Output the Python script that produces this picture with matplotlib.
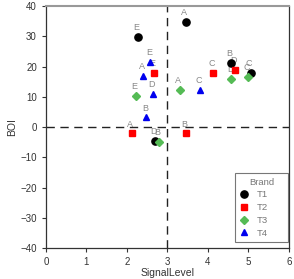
import matplotlib
matplotlib.use("Agg")
import matplotlib.pyplot as plt

brands = ["A", "B", "C", "D", "E"]
series_names = ["T1", "T2", "T3", "T4"]
x_vals = {
    "T1": [3.45, 4.56, 5.05, 2.69, 2.27],
    "T2": [2.12, 3.46, 4.12, 4.67, 2.66],
    "T3": [3.30, 2.79, 4.98, 4.58, 2.22],
    "T4": [2.40, 2.48, 3.80, 2.64, 2.58],
}
y_vals = {
    "T1": [34.8, 21.2, 17.9, -4.5, 29.8],
    "T2": [-2.1, -2.1, 17.9, 19.0, 17.9],
    "T3": [12.4, -5.0, 16.6, 15.8, 10.2],
    "T4": [16.8, 3.2, 12.4, 11.1, 21.6],
}
x_ticks = [0, 1, 2, 3, 4, 5, 6]
y_ticks = [-40, -30, -20, -10, 0, 10, 20, 30, 40]

styles = {
    "T1": dict(marker="o", color="black", ms=5.2),
    "T2": dict(marker="s", color="#ff0000", ms=4.6),
    "T3": dict(marker="D", color="#55bb55", ms=4.0),
    "T4": dict(marker="^", color="#0000ee", ms=5.0),
}

plt.rcParams['font.family'] = ['Liberation Sans', 'DejaVu Sans']
fig = plt.figure(figsize=(2.94, 2.79), dpi=100)
ax = fig.add_axes([0.156, 0.111, 0.827, 0.867])

ax.axvline(3, color="#222222", lw=1.0, ls=(0, (6, 4)), zorder=1)
ax.axhline(0, color="#222222", lw=1.0, ls=(0, (6, 4)), zorder=1)

for name in series_names:
    st = styles[name]
    ax.plot(x_vals[name], y_vals[name], ls="none", marker=st["marker"],
            color=st["color"], ms=st["ms"], mec=st["color"], label=name, zorder=3)
    for b, xv, yv in zip(brands, x_vals[name], y_vals[name]):
        ax.annotate(b, (xv, yv), xytext=(-1, 3.5), textcoords="offset points",
                    ha="center", va="bottom", fontsize=6.5, color="#888888", zorder=2)

ax.set_xlim(0, 6)
ax.set_ylim(-40, 40)
ax.set_xticks(x_ticks)
ax.set_yticks(y_ticks)
ax.tick_params(labelsize=7, colors="#333333", length=3, width=0.8, labelcolor="#333333")
for s in ["left", "bottom", "right"]:
    ax.spines[s].set_color("#333333")
    ax.spines[s].set_linewidth(0.9)
ax.spines["top"].set_color("#999999")
ax.spines["top"].set_linewidth(1.5)

ax.set_xlabel("SignalLevel", fontsize=7.5, color="#333333", labelpad=1)
ax.set_ylabel("BOI", fontsize=7.5, color="#333333", labelpad=2)

leg = ax.legend(title="Brand", loc="lower left", bbox_to_anchor=(0.778, 0.025, 0.218, 0.27),
                mode="expand", fontsize=6.8, title_fontsize=6.8,
                frameon=True, fancybox=False, edgecolor="#555555",
                borderaxespad=0.0, handletextpad=1.0, labelspacing=0.4,
                borderpad=0.45, handlelength=0.9)
leg.get_frame().set_linewidth(0.8)
for t in leg.get_texts():
    t.set_color("#777777")
leg.get_title().set_color("#777777")

fig.savefig("out.png", dpi=100)
